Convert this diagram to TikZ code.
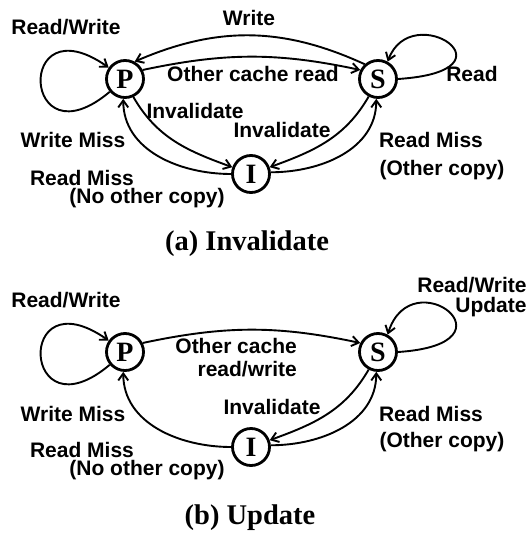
\documentclass[tikz,border=0pt]{standalone}
\usepackage{fontspec}
\setmainfont{Liberation Sans}
\newfontfamily\timesfont{Liberation Serif}
\usetikzlibrary{automata,positioning,arrows.meta}
\tikzset{
    >={Straight Barb[length=7pt,width=10pt]}, % thin open barbs
    every state/.style={draw, line width=2.8pt, minimum size=37pt, inner sep=0pt,
        font=\timesfont\bfseries\fontsize{28}{28}\selectfont}, % P, S, I circles
    every edge/.style={draw, line width=1.9pt},
    loopline/.style={draw, line width=1.9pt, ->},
    lbl/.style={font=\bfseries\fontsize{21}{23}\selectfont, inner sep=0pt, anchor=base},
    caption/.style={font=\timesfont\bfseries\fontsize{28.5}{30}\selectfont, inner sep=0pt, anchor=base},
}

\begin{document}
\begin{tikzpicture}[x=1pt,y=1pt]
  \useasboundingbox (0,0) rectangle (530,-546);

  % (a) Invalidate
  \node[state] (Pa) at (125,-79)  {P};
  \node[state] (Sa) at (378,-79)  {S};
  \node[state] (Ia) at (251,-174) {I};

  \node[lbl] (rwPa)  at (66,-34)   {Read/Write};
  \node[lbl] (wrPa)  at (249,-25)  {Write};
  \node[lbl] (ocra)  at (253,-81)  {Other cache read};
  \node[lbl] (rdSa)  at (472,-81)  {Read};
  \node[lbl] (invPa) at (195,-118) {Invalidate};
  \node[lbl] (invSa) at (282,-137) {Invalidate};
  \node[lbl] (wmIa)  at (73,-147)  {Write Miss};
  \node[lbl] (rmIa)  at (82,-185)  {Read Miss};
  \node[lbl] (noIa)  at (147,-203) {(No other copy)};
  \node[lbl] (rmSa)  at (431,-147) {Read Miss};
  \node[lbl] (ocSa)  at (442,-175) {(Other copy)};
  \node[caption] (capa) at (247,-250) {(a) Invalidate};

  \path[->]
    (Pa.220) edge [out=220,in=145,distance=115pt] (Pa.145)
    (Sa.132) edge [bend right=24] (Pa.61)
    (Pa.27)  edge [bend left=12] (Sa.153)
    (Pa.295) edge [out=-60,in=160] (Ia.160)
    (Ia.180) edge [out=180,in=-90] (Pa.265)
    (Sa.242) edge [out=240,in=20] (Ia.20)
    (Ia.5)   edge [out=0,in=-90] (Sa.265);
  \draw[loopline] (Sa.0) .. controls +(125,8) and +(24,64) .. (Sa.61);

  % (b) Update
  \begin{scope}[yshift=-273pt]
  \node[state] (Pb) at (125,-79)  {P};
  \node[state] (Sb) at (378,-79)  {S};
  \node[state] (Ib) at (251,-174) {I};

  \node[lbl] (rwPb)  at (66,-34)   {Read/Write};
  \node[lbl] (rwSb)  at (472,-19)  {Read/Write};
  \node[lbl] (upSb)  at (491,-39)  {Update};
  \node[lbl, align=right, anchor=east] (ocrb) at (297,-85) {Other cache\\read/write};
  \node[lbl] (invSb) at (272,-141) {Invalidate};
  \node[lbl] (wmIb)  at (73,-148)  {Write Miss};
  \node[lbl] (rmIb)  at (82,-184)  {Read Miss};
  \node[lbl] (noIb)  at (147,-202) {(No other copy)};
  \node[lbl] (rmSb)  at (431,-148) {Read Miss};
  \node[lbl] (ocSb)  at (442,-174) {(Other copy)};
  \node[caption] (capb) at (250,-251) {(b) Update};

  \path[->]
    (Pb.220) edge [out=220,in=145,distance=115pt] (Pb.145)
    (Pb.27)  edge [bend left=12] (Sb.153)
    (Ib.180) edge [out=180,in=-90] (Pb.265)
    (Sb.242) edge [out=240,in=20] (Ib.20)
    (Ib.5)   edge [out=0,in=-90] (Sb.265);
  \draw[loopline] (Sb.0) .. controls +(125,8) and +(24,76) .. (Sb.61);
  \end{scope}
\end{tikzpicture}
\end{document}
